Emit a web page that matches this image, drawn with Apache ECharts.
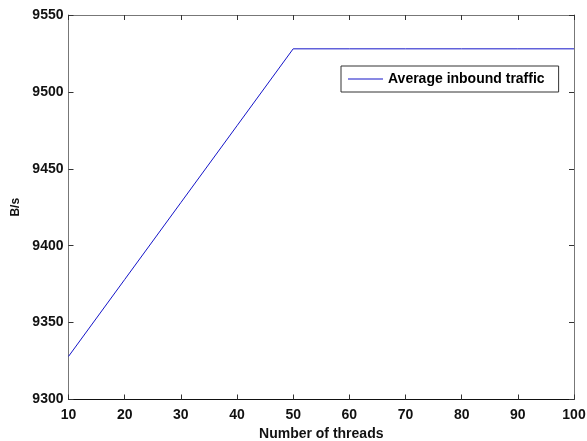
<!DOCTYPE html>
<html>
<head>
<meta charset="utf-8">
<script src="https://cdn.jsdelivr.net/npm/echarts@6/dist/echarts.min.js"></script>
<style>
  html, body { margin: 0; padding: 0; background: #fff; }
  #chart { width: 587px; height: 441px; }
</style>
</head>
<body>
<div id="chart"></div>
<script>
// Thread counts and measured average inbound traffic (bytes per second)
const threads = [10, 20, 30, 40, 50, 60, 70, 80, 90, 100];
const inboundTraffic = [9328, 9378, 9428, 9478, 9528, 9528, 9528, 9528, 9528, 9528];
const seriesName = 'Average inbound traffic';
const xTitle = 'Number of threads';
const yTitle = 'B/s';

const font = 'Arial, "Liberation Sans", Helvetica, sans-serif';
const lineColor = '#1414c8';
const chart = echarts.init(document.getElementById('chart'), null, { renderer: 'canvas' });

const tickStyle = { inside: true, length: 5, lineStyle: { color: '#333', width: 1 } };
const labelText = { fontFamily: font, fontSize: 14, fontWeight: 'bold', color: '#111' };

chart.setOption({
  animation: false,
  backgroundColor: '#fff',
  grid: {
    left: 68.5, right: 13, top: 15, bottom: 41.5,
    containLabel: false,
    outerBoundsMode: 'none'
  },
  legend: {
    // thin bar icon so the key reads as a plain line sample
    data: [{ name: seriesName, icon: 'path://M0,0H35V1H0Z' }],
    left: 341, top: 66,
    padding: [6, 14, 6, 7],
    itemWidth: 35, itemHeight: 14, itemGap: 0,
    borderColor: '#333', borderWidth: 1,
    backgroundColor: '#fff',
    itemStyle: { color: lineColor },
    textStyle: Object.assign({}, labelText, { color: '#000' })
  },
  xAxis: [
    {
      type: 'value', min: 10, max: 100, interval: 10, position: 'bottom',
      name: xTitle, nameLocation: 'middle', nameGap: 22,
      nameTextStyle: labelText,
      axisLine: { lineStyle: { color: '#111', width: 1 } },
      axisTick: tickStyle,
      axisLabel: Object.assign({ margin: 9, formatter: v => String(v) }, labelText),
      splitLine: { show: false }
    },
    {
      type: 'value', min: 10, max: 100, interval: 10, position: 'top',
      axisLine: { lineStyle: { color: '#777', width: 1 } },
      axisTick: tickStyle,
      axisLabel: { show: false },
      splitLine: { show: false }
    }
  ],
  yAxis: [
    {
      type: 'value', min: 9300, max: 9550, interval: 50, position: 'left',
      name: yTitle, nameLocation: 'middle', nameGap: 45, nameRotate: 90,
      nameTextStyle: { fontFamily: font, fontSize: 12, fontWeight: 'bold', color: '#111' },
      axisLine: { show: true, lineStyle: { color: '#777', width: 1 } },
      axisTick: tickStyle,
      axisLabel: Object.assign({ margin: 5, formatter: v => String(v) }, labelText),
      splitLine: { show: false }
    },
    {
      type: 'value', min: 9300, max: 9550, interval: 50, position: 'right',
      axisLine: { show: true, lineStyle: { color: '#777', width: 1 } },
      axisTick: tickStyle,
      axisLabel: { show: false },
      splitLine: { show: false }
    }
  ],
  series: [
    {
      name: seriesName,
      type: 'line',
      xAxisIndex: 0, yAxisIndex: 0,
      data: threads.map((t, i) => [t, inboundTraffic[i]]),
      showSymbol: false,
      symbol: 'none',
      lineStyle: { color: lineColor, width: 1 },
      itemStyle: { color: lineColor }
    }
  ]
});
</script>
</body>
</html>
